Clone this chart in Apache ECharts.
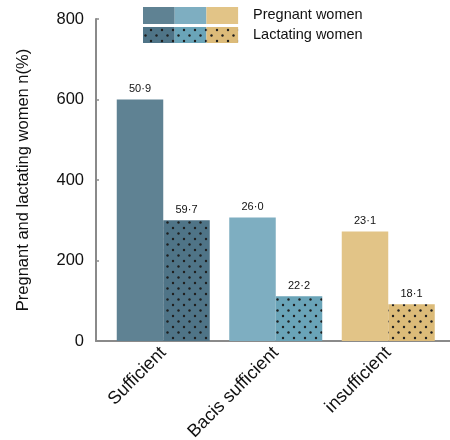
<!DOCTYPE html>
<html>
<head>
<meta charset="utf-8">
<script src="https://cdn.jsdelivr.net/npm/echarts@6/dist/echarts.min.js"></script>
<style>
  html, body { margin: 0; padding: 0; background: #fff; }
  #chart { width: 450px; height: 440px; }
</style>
</head>
<body>
<div id="chart"></div>
<script>
// Iodine status groups and counts of women in each
const categories = ['Sufficient', 'Bacis sufficient', 'insufficient'];
const pregnantCounts = [600, 307, 272];
const lactatingCounts = [300, 111, 91];
const pregnantPct = ['50·9', '26·0', '23·1'];
const lactatingPct = ['59·7', '22·2', '18·1'];
const yTicks = [0, 200, 400, 600, 800];

const seriesNames = ['Pregnant women', 'Lactating women'];
const pregnantColors = ['#5f8293', '#7eaec1', '#e2c487'];
const lactatingColors = ['#4f7487', '#6aa4b8', '#dcbb79'];

// Dotted fill: staggered dark dots on a solid base colour
function dotPattern(base) {
  const c = document.createElement('canvas');
  c.width = 11; c.height = 11;
  const ctx = c.getContext('2d');
  ctx.fillStyle = base;
  ctx.fillRect(0, 0, 11, 11);
  ctx.fillStyle = '#1e1e1e';
  ctx.beginPath(); ctx.arc(2.5, 2.5, 1.2, 0, Math.PI * 2); ctx.fill();
  ctx.beginPath(); ctx.arc(8, 8, 1.2, 0, Math.PI * 2); ctx.fill();
  return { image: c, repeat: 'repeat' };
}

const yMin = yTicks[0], yMax = yTicks[yTicks.length - 1], yStep = yTicks[1] - yTicks[0];
const axisGray = '#8a8a8a';
const font = 'Liberation Sans, Arial, sans-serif';

// Three-colour legend swatches
const swatchX = 143, swatchW = 31.7;
const legendGraphics = [];
pregnantColors.forEach((col, i) => {
  legendGraphics.push({ type: 'rect', shape: { x: swatchX + i * swatchW, y: 7, width: swatchW, height: 17 }, style: { fill: col } });
});
lactatingColors.forEach((col, i) => {
  legendGraphics.push({ type: 'rect', shape: { x: swatchX + i * swatchW, y: 27, width: swatchW, height: 16 }, style: { fill: dotPattern(col) } });
});
legendGraphics.push({ type: 'text', x: 253, y: 15, style: { text: seriesNames[0], font: '14.5px ' + font, fill: '#111', verticalAlign: 'middle' } });
legendGraphics.push({ type: 'text', x: 253, y: 35, style: { text: seriesNames[1], font: '14.5px ' + font, fill: '#111', verticalAlign: 'middle' } });

const chart = echarts.init(document.getElementById('chart'), null, { renderer: 'canvas' });
chart.setOption({
  animation: false,
  backgroundColor: '#fff',
  textStyle: { fontFamily: font },
  grid: [
    { left: 96, right: 0, top: 19, bottom: 99, outerBoundsMode: 'none' },
    { left: 107, right: 5.5, top: 19, bottom: 99, outerBoundsMode: 'none' }
  ],
  xAxis: [
    {
      gridIndex: 0, type: 'value', min: 0, max: 1,
      axisLine: { show: true, lineStyle: { color: axisGray, width: 2 } },
      axisTick: { show: false }, axisLabel: { show: false }, splitLine: { show: false }
    },
    {
      gridIndex: 1, type: 'category', data: categories,
      axisLine: { show: false }, axisTick: { show: false },
      axisLabel: { rotate: 45, margin: 9, fontSize: 18, color: '#111', interval: 0 }
    }
  ],
  yAxis: [
    {
      gridIndex: 0, type: 'value', min: yMin, max: yMax, interval: yStep,
      name: 'Pregnant and lactating women n(%)', nameLocation: 'middle', nameGap: 64,
      nameTextStyle: { fontSize: 16.5, color: '#111' },
      axisLine: { show: true, lineStyle: { color: axisGray, width: 2 } },
      axisTick: { show: true, inside: true, length: 3, lineStyle: { color: axisGray, width: 1.5 } },
      axisLabel: { fontSize: 16.5, color: '#111', margin: 12 },
      splitLine: { show: false }
    },
    { gridIndex: 1, type: 'value', min: yMin, max: yMax, show: false }
  ],
  series: [
    {
      name: seriesNames[0], type: 'bar', xAxisIndex: 1, yAxisIndex: 1,
      barWidth: 46.5, barGap: '0%',
      data: pregnantCounts.map((v, i) => ({ value: v, itemStyle: { color: pregnantColors[i] } })),
      label: { show: true, position: 'top', distance: 5, fontSize: 11, color: '#111',
               formatter: p => pregnantPct[p.dataIndex] }
    },
    {
      name: seriesNames[1], type: 'bar', xAxisIndex: 1, yAxisIndex: 1,
      barWidth: 46.5, barGap: '0%',
      data: lactatingCounts.map((v, i) => ({ value: v, itemStyle: { color: dotPattern(lactatingColors[i]) } })),
      label: { show: true, position: 'top', distance: 5, fontSize: 11, color: '#111',
               formatter: p => lactatingPct[p.dataIndex] }
    }
  ],
  graphic: legendGraphics
});
</script>
</body>
</html>
